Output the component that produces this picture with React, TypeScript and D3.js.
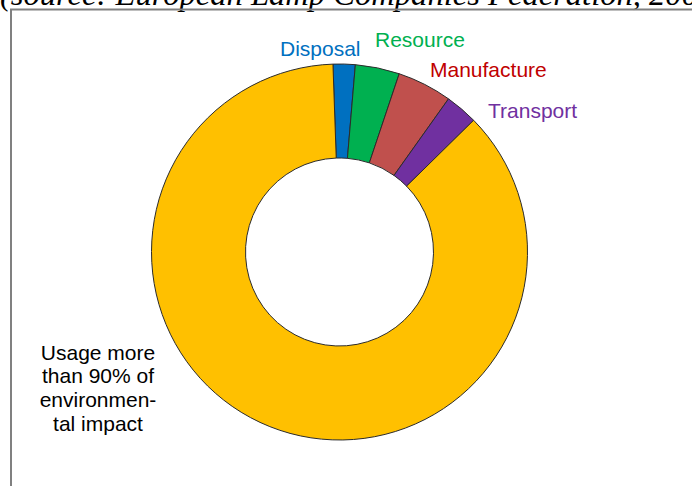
import React from "react";
import * as d3 from "d3";

const categories = ["Disposal", "Resource", "Manufacture", "Transport", "Usage"];
const values = [1.9, 3.8, 4.7, 2.8, 86.8];
const colors = ["#0070c0", "#00b050", "#c0504d", "#7030a0", "#ffc000"];
const labelColors = ["#0070c0", "#00b050", "#c00000", "#7030a0", "#000000"];
const usageLines = ["Usage more", "than 90% of", "environmen-", "tal impact"];
const sourceText = "(source: European Lamp Companies Federation, 2009)";

const W = 692;
const H = 486;
const cx = 339.5;
const cy = 252;
const outerR = 188;
const innerR = 94;
const startDeg = -2;

// label anchor layout (start-anchored text), separate from data
const labelLayout = [
  { x: 280, y: 56 },
  { x: 375, y: 47 },
  { x: 430, y: 77 },
  { x: 488, y: 118 },
];

export default function App() {
  const data = categories.map((c, i) => ({ c, v: values[i], i }));
  const start = (startDeg * Math.PI) / 180;
  const pie = d3
    .pie<any>()
    .value((d) => d.v)
    .sort(null)
    .startAngle(start)
    .endAngle(start + Math.PI * 2);
  const arcs = pie(data);
  const arc = d3.arc<any>().innerRadius(innerR).outerRadius(outerR);

  return (
    <svg
      width={W}
      height={H}
      style={{ position: "absolute", left: 0, top: 0, display: "block", background: "#fff" }}
    >
      <text
        x={0}
        y={5}
        fontFamily="'Liberation Serif', 'Times New Roman', serif"
        fontStyle="italic"
        fontSize={32.6}
        fill="#000"
      >
        {sourceText}
      </text>
      <rect x={11} y={9.5} width={W + 20} height={H + 20} fill="none" stroke="#808080" strokeWidth={2} />
      <g transform={`translate(${cx},${cy})`}>
        {arcs.map((a, i) => (
          <path key={i} d={arc(a) as string} fill={colors[i]} stroke="#2b2b2b" strokeWidth={1} />
        ))}
      </g>
      <g fontFamily="'Liberation Sans', Arial, sans-serif" fontSize={21}>
        {labelLayout.map((p, i) => (
          <text key={i} x={p.x} y={p.y} fill={labelColors[i]}>
            {categories[i]}
          </text>
        ))}
        <text x={98} y={359.5} textAnchor="middle" fill={labelColors[4]}>
          {usageLines.map((l, j) => (
            <tspan key={j} x={98} dy={j === 0 ? 0 : 23.8}>
              {l}
            </tspan>
          ))}
        </text>
      </g>
    </svg>
  );
}
